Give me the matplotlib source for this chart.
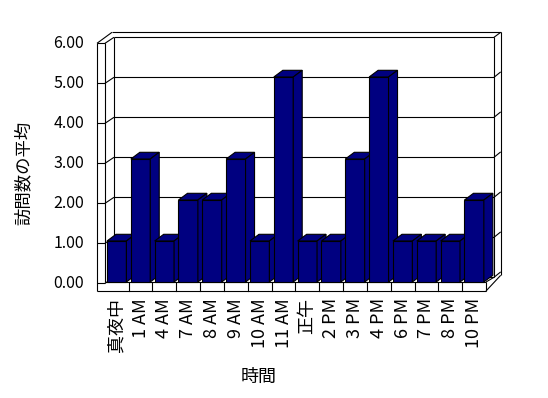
import matplotlib
matplotlib.use("Agg")
import matplotlib.pyplot as plt
import matplotlib.transforms as mtransforms
from matplotlib.patches import Polygon

plt.rcParams['font.family'] = ['Noto Sans CJK JP', 'DejaVu Sans']

# data
hours = ['真夜中', '1 AM', '4 AM', '7 AM', '8 AM', '9 AM', '10 AM', '11 AM',
         '正午', '2 PM', '3 PM', '4 PM', '6 PM', '7 PM', '8 PM', '10 PM']
avg_visits = [1, 3, 1, 2, 2, 3, 1, 5, 1, 1, 3, 5, 1, 1, 1, 2]
y_ticks = [0, 1, 2, 3, 4, 5, 6]
y_labels = ['0.00', '1.00', '2.00', '3.00', '4.00', '5.00', '6.00']

W, H = 548, 398
navy = '#000080'
lw = 0.8

fig = plt.figure(figsize=(W / 100, H / 100), dpi=100)
# image pixel coords (y going down) for the box furniture
pix = mtransforms.Affine2D().scale(1 / 100, -1 / 100).translate(0, H / 100) + fig.dpi_scale_trans

# bar plane: category 0 centre, category width, value 0 and px per unit
x0, cw, y0, vh = 116.7, 23.83, 282, 41
ax = fig.add_axes([(x0 - 0.5 * cw) / W, (H - y0) / H, 16 * cw / W, 6 * vh / H])
ax.set_xlim(-0.5, 15.5)
ax.set_ylim(0, 6)
ax.axis('off')

def yf(v):  # front edge of the left wall
    return 283.3 - 40 * v

def yb(v):  # back wall
    return 277.3 - 40 * v

def seg(p, q):
    ax.plot([p[0], q[0]], [p[1], q[1]], color='black', lw=lw,
            transform=pix, clip_on=False, zorder=1, solid_capstyle='butt')

# walls
top = max(y_ticks)
seg((97, yf(top)), (97, 291))
seg((105, yf(top)), (105, 282))
seg((97, yf(top)), (112, 32.3))
seg((112, 32.3), (500.7, 32.3))
seg((500.7, 32.3), (500.7, 275.3))
seg((494, yb(top)), (500.7, 32.3))
seg((114, yb(top)), (114, yb(0)))
seg((494, yb(top)), (494, yb(0)))
for v in y_ticks:
    seg((97, yf(v)), (105, yf(v)))
    seg((105, yf(v)), (114, yb(v)))
    seg((114, yb(v)), (494, yb(v)))
    if v != top:
        seg((494, yb(v)), (500.7, yb(v) - 5.4))

# floor
seg((97, 291), (486, 291))
seg((105, 282), (486, 282))
seg((486, 282), (486, 291))
seg((486, 291), (500.7, 275.3))
seg((486, 282), (494, yb(0)))
blend = mtransforms.blended_transform_factory(ax.transData, pix)
for k in range(len(hours) - 1):
    ax.plot([k + 0.5, k + 0.5], [282, 291], color='black', lw=lw,
            transform=blend, clip_on=False, zorder=1)

# bars with top and side faces
bw = 0.814
dx, dy = 9 / cw, 6.7 / vh
xs = list(range(len(hours)))
bars = ax.bar(xs, avg_visits, width=bw, color=navy, edgecolor='black', lw=lw)
for i, (b, v) in enumerate(zip(bars, avg_visits)):
    z = 3 + i
    b.set_zorder(z)
    L, R = i - bw / 2, i + bw / 2
    ax.add_patch(Polygon([(L, v), (R, v), (R + dx, v + dy), (L + dx, v + dy)],
                         closed=True, fc=navy, ec='black', lw=lw, zorder=z, clip_on=False))
    ax.add_patch(Polygon([(R, 0), (R, v), (R + dx, v + dy), (R + dx, dy)],
                         closed=True, fc=navy, ec='black', lw=lw, zorder=z, clip_on=False))
    b.set_clip_on(False)

# tick labels
for v, lab in zip(y_ticks, y_labels):
    ax.text(84, yf(v), lab, transform=pix, ha='right', va='center', fontsize=11.5)
for i, lab in enumerate(hours):
    ax.text(i, 298, lab, transform=blend, rotation=90, ha='center', va='top', fontsize=13)

ax.text(259, 377, '時間', transform=pix, ha='center', va='center', fontsize=13)
ax.text(24, 173, '訪問数の平均', transform=pix, rotation=90, ha='center', va='center', fontsize=12.5)

fig.savefig('out.png', dpi=100)
